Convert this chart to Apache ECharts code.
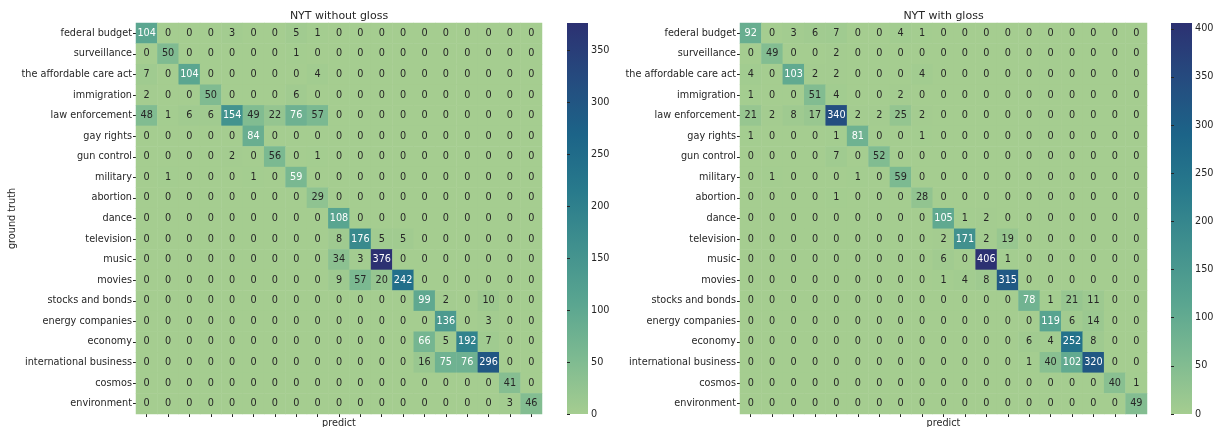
<!DOCTYPE html>
<html>
<head>
<meta charset="utf-8">
<script src="https://cdn.jsdelivr.net/npm/echarts@6/dist/echarts.min.js"></script>
<style>
html,body{margin:0;padding:0;background:#fff;}
#chart{width:1215px;height:427px;}
</style>
</head>
<body>
<div id="chart"></div>
<script>
const categories = ['federal budget','surveillance','the affordable care act','immigration','law enforcement','gay rights','gun control','military','abortion','dance','television','music','movies','stocks and bonds','energy companies','economy','international business','cosmos','environment'];

const withoutGloss = [
  [104,0,0,0,3,0,0,5,1,0,0,0,0,0,0,0,0,0,0],
  [0,50,0,0,0,0,0,1,0,0,0,0,0,0,0,0,0,0,0],
  [7,0,104,0,0,0,0,0,4,0,0,0,0,0,0,0,0,0,0],
  [2,0,0,50,0,0,0,6,0,0,0,0,0,0,0,0,0,0,0],
  [48,1,6,6,154,49,22,76,57,0,0,0,0,0,0,0,0,0,0],
  [0,0,0,0,0,84,0,0,0,0,0,0,0,0,0,0,0,0,0],
  [0,0,0,0,2,0,56,0,1,0,0,0,0,0,0,0,0,0,0],
  [0,1,0,0,0,1,0,59,0,0,0,0,0,0,0,0,0,0,0],
  [0,0,0,0,0,0,0,0,29,0,0,0,0,0,0,0,0,0,0],
  [0,0,0,0,0,0,0,0,0,108,0,0,0,0,0,0,0,0,0],
  [0,0,0,0,0,0,0,0,0,8,176,5,5,0,0,0,0,0,0],
  [0,0,0,0,0,0,0,0,0,34,3,376,0,0,0,0,0,0,0],
  [0,0,0,0,0,0,0,0,0,9,57,20,242,0,0,0,0,0,0],
  [0,0,0,0,0,0,0,0,0,0,0,0,0,99,2,0,10,0,0],
  [0,0,0,0,0,0,0,0,0,0,0,0,0,0,136,0,3,0,0],
  [0,0,0,0,0,0,0,0,0,0,0,0,0,66,5,192,7,0,0],
  [0,0,0,0,0,0,0,0,0,0,0,0,0,16,75,76,296,0,0],
  [0,0,0,0,0,0,0,0,0,0,0,0,0,0,0,0,0,41,0],
  [0,0,0,0,0,0,0,0,0,0,0,0,0,0,0,0,0,3,46]
];

const withGloss = [
  [92,0,3,6,7,0,0,4,1,0,0,0,0,0,0,0,0,0,0],
  [0,49,0,0,2,0,0,0,0,0,0,0,0,0,0,0,0,0,0],
  [4,0,103,2,2,0,0,0,4,0,0,0,0,0,0,0,0,0,0],
  [1,0,0,51,4,0,0,2,0,0,0,0,0,0,0,0,0,0,0],
  [21,2,8,17,340,2,2,25,2,0,0,0,0,0,0,0,0,0,0],
  [1,0,0,0,1,81,0,0,1,0,0,0,0,0,0,0,0,0,0],
  [0,0,0,0,7,0,52,0,0,0,0,0,0,0,0,0,0,0,0],
  [0,1,0,0,0,1,0,59,0,0,0,0,0,0,0,0,0,0,0],
  [0,0,0,0,1,0,0,0,28,0,0,0,0,0,0,0,0,0,0],
  [0,0,0,0,0,0,0,0,0,105,1,2,0,0,0,0,0,0,0],
  [0,0,0,0,0,0,0,0,0,2,171,2,19,0,0,0,0,0,0],
  [0,0,0,0,0,0,0,0,0,6,0,406,1,0,0,0,0,0,0],
  [0,0,0,0,0,0,0,0,0,1,4,8,315,0,0,0,0,0,0],
  [0,0,0,0,0,0,0,0,0,0,0,0,0,78,1,21,11,0,0],
  [0,0,0,0,0,0,0,0,0,0,0,0,0,0,119,6,14,0,0],
  [0,0,0,0,0,0,0,0,0,0,0,0,0,6,4,252,8,0,0],
  [0,0,0,0,0,0,0,0,0,0,0,0,0,1,40,102,320,0,0],
  [0,0,0,0,0,0,0,0,0,0,0,0,0,0,0,0,0,40,1],
  [0,0,0,0,0,0,0,0,0,0,0,0,0,0,0,0,0,0,49]
];

const ticksLeft = [0,50,100,150,200,250,300,350];
const ticksRight = [0,50,100,150,200,250,300,350,400];
const titles = ['NYT without gloss','NYT with gloss'];

const crest = ['#a5cd90','#7dba91','#59a590','#40908e','#287a8c','#1c6488','#254b7f','#2c3172'];
const FONT = 'DejaVu Sans';
const TXT = '#262626';

function hexRgb(h){return [parseInt(h.slice(1,3),16),parseInt(h.slice(3,5),16),parseInt(h.slice(5,7),16)];}
function colorAt(t){
  t = Math.max(0, Math.min(1, t));
  const n = crest.length - 1;
  const i = Math.min(n - 1, Math.floor(t * n));
  const f = t * n - i;
  const a = hexRgb(crest[i]), b = hexRgb(crest[i+1]);
  return a.map((v,k)=>v + (b[k]-v)*f);
}
function lum(rgb){
  const c = rgb.map(v=>{v/=255; return v<=0.03928 ? v/12.92 : Math.pow((v+0.055)/1.055,2.4);});
  return 0.2126*c[0]+0.7152*c[1]+0.0722*c[2];
}
function buildData(m){
  const vmax = Math.max(...m.map(r=>Math.max(...r)));
  const out = [];
  m.forEach((row, r)=>row.forEach((v, c)=>{
    const l = lum(colorAt(v / vmax));
    out.push({value:[c, r, v], label:{color: l > 0.408 ? TXT : '#ffffff'}});
  }));
  return {data: out, vmax};
}
const d0 = buildData(withoutGloss);
const d1 = buildData(withGloss);

const gradient = {type:'linear', x:0, y:1, x2:0, y2:0,
  colorStops: crest.map((c,i)=>({offset:i/(crest.length-1), color:c}))};

const G = [
  {left:136, top:23, width:406, height:391},
  {left:567, top:23, width:21, height:391, show:true, backgroundColor:gradient, borderWidth:0},
  {left:740, top:23, width:407, height:391},
  {left:1171, top:23, width:21, height:391, show:true, backgroundColor:gradient, borderWidth:0}
];

function heatX(gi){
  return {gridIndex:gi, type:'category', data:categories,
    axisLine:{show:false},
    axisTick:{show:true, alignWithLabel:true, interval:0, length:3, lineStyle:{color:TXT, width:1}},
    axisLabel:{show:false},
    splitLine:{show:false},
    name:'predict', nameLocation:'middle', nameGap:4,
    nameTextStyle:{fontFamily:FONT, fontSize:9.7, color:TXT, verticalAlign:'top'}};
}
function heatY(gi, withName){
  const ax = {gridIndex:gi, type:'category', data:categories, inverse:true,
    axisLine:{show:false},
    axisTick:{show:true, alignWithLabel:true, interval:0, length:3, lineStyle:{color:TXT, width:1}},
    axisLabel:{interval:0, fontFamily:FONT, fontSize:9.7, color:TXT, margin:4},
    splitLine:{show:false}};
  if (withName){
    ax.name = 'ground truth'; ax.nameLocation = 'middle'; ax.nameGap = 108; ax.nameRotate = 90;
    ax.nameTextStyle = {fontFamily:FONT, fontSize:9.7, color:TXT};
  }
  return ax;
}
function cbX(gi){ return {gridIndex:gi, type:'value', show:false, min:0, max:1}; }
function cbY(gi, vmax, ticks){
  return {gridIndex:gi, type:'value', min:0, max:vmax, interval:50, position:'right',
    axisLine:{show:false},
    axisTick:{show:true, length:3, customValues:ticks, lineStyle:{color:TXT, width:1}},
    axisLabel:{fontFamily:FONT, fontSize:9.7, color:TXT, margin:3, customValues:ticks},
    splitLine:{show:false}};
}
function vm(si, vmax){
  return {type:'continuous', show:false, seriesIndex:si, min:0, max:vmax, inRange:{color:crest}};
}
function heatSeries(xi, yi, d){
  return {type:'heatmap', xAxisIndex:xi, yAxisIndex:yi, data:d.data,
    label:{show:true, fontFamily:FONT, fontSize:9.7, formatter:p=>String(p.value[2])},
    itemStyle:{borderWidth:0},
    emphasis:{disabled:true}, animation:false};
}

const option = {
  animation:false,
  backgroundColor:'#ffffff',
  textStyle:{fontFamily:FONT},
  title: titles.map((t,i)=>({text:t, left: i===0 ? 339 : 943.5, top:11, textAlign:'center', padding:0,
    textStyle:{fontFamily:FONT, fontSize:11, fontWeight:'normal', color:TXT}})),
  grid: G.map(g=>Object.assign({containLabel:false, outerBoundsMode:'none'}, g)),
  xAxis:[heatX(0), cbX(1), heatX(2), cbX(3)],
  yAxis:[heatY(0,true), cbY(1, d0.vmax, ticksLeft), heatY(2,false), cbY(3, d1.vmax, ticksRight)],
  visualMap:[vm(0, d0.vmax), vm(1, d1.vmax)],
  series:[heatSeries(0,0,d0), heatSeries(2,2,d1)]
};

const chart = echarts.init(document.getElementById('chart'), null, {renderer:'canvas'});
chart.setOption(option);
</script>
</body>
</html>
